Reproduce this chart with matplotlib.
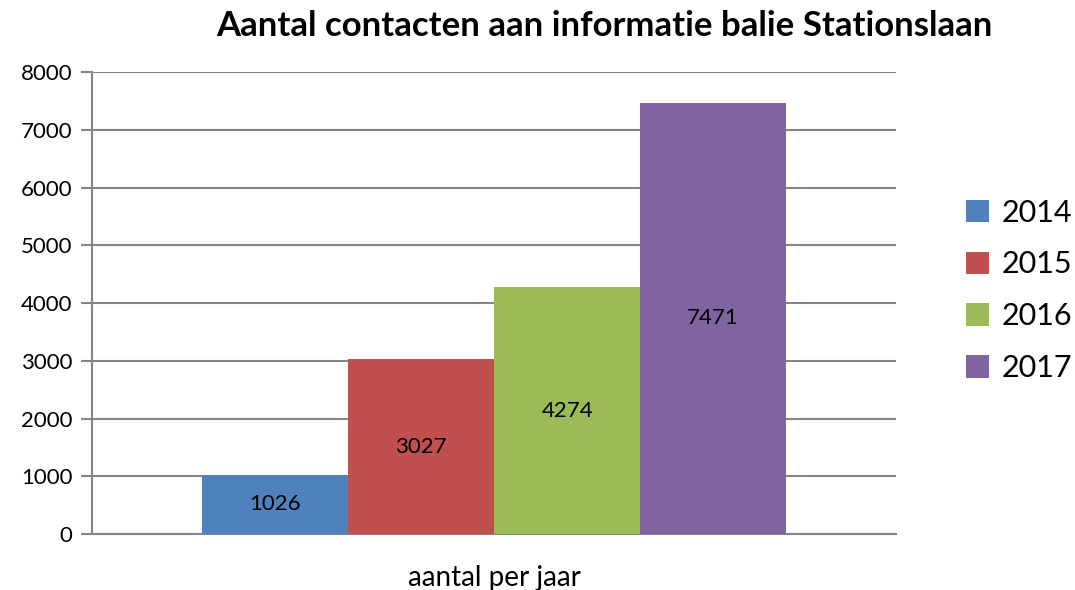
import matplotlib
matplotlib.use("Agg")
import matplotlib.pyplot as plt
import numpy as np

# Gegevens
jaren = ["2014", "2015", "2016", "2017"]
aantallen = [1026, 3027, 4274, 7471]
kleuren = ["#4f81bd", "#c0504d", "#9bbb59", "#8064a2"]
categorie = "aantal per jaar"

plt.rcParams["font.family"] = ["Lato", "DejaVu Sans"]

fig = plt.figure(figsize=(10.75, 5.9), dpi=100)
ax = fig.add_axes([0.0856, 0.0949, 0.748, 0.783])

breedte = 0.1816
posities = (np.arange(len(jaren)) - 1.5) * breedte
for pos, waarde, kleur, jaar in zip(posities, aantallen, kleuren, jaren):
    ax.bar(pos, waarde, width=breedte, color=kleur, label=jaar, zorder=3)
    ax.text(pos, waarde / 2, str(waarde), ha="center", va="center",
            fontsize=16, zorder=4)

ax.set_xlim(-0.5, 0.5)
ax.set_ylim(0, 8000)
ax.set_yticks(range(0, 8001, 1000))
ax.set_xticks([])
ax.set_xlabel(categorie, fontsize=20, labelpad=22)
ax.yaxis.grid(True, color="#868686", linewidth=1.5, zorder=0)

for s in ["top", "right"]:
    ax.spines[s].set_visible(False)
for s in ["left", "bottom"]:
    ax.spines[s].set_color("#868686")
    ax.spines[s].set_linewidth(1.5)
ax.tick_params(axis="y", length=8, width=1.5, color="#868686",
               labelsize=16, pad=6)

ax.set_title("Aantal contacten aan informatie balie Stationslaan",
             fontsize=25, fontweight="bold", x=0.637, pad=26)

fig.legend(loc="center left", bbox_to_anchor=(0.899, 0.508), frameon=False,
           fontsize=22, handlelength=0.75, handleheight=0.75,
           handletextpad=0.4, labelspacing=0.78, borderpad=0,
           borderaxespad=0)

fig.savefig("out.png", dpi=100)
